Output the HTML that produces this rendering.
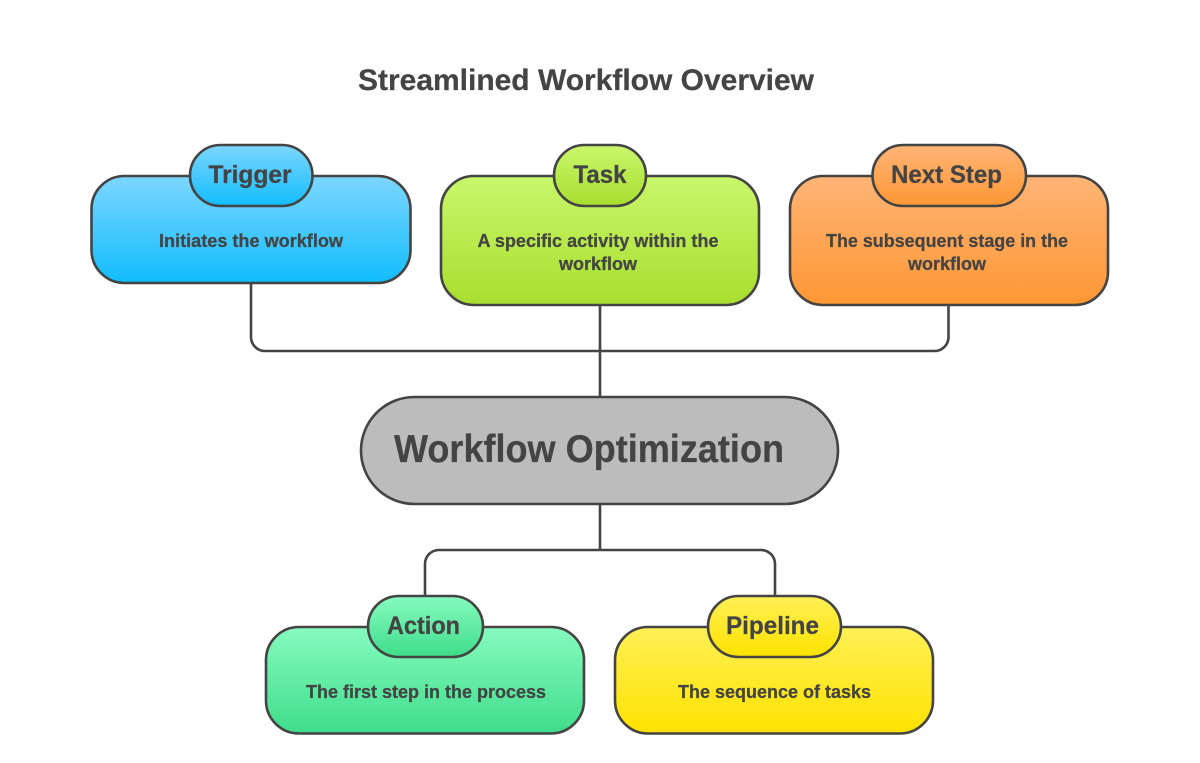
<!DOCTYPE html>
<html lang="en">
<head>
<meta charset="utf-8">
<title>Streamlined Workflow Overview</title>
<style>
html,body{margin:0;padding:0;background:#fff;width:1200px;height:763px;overflow:hidden}
svg{display:block}
text{font-family:"Liberation Sans",Arial,sans-serif;font-weight:700;fill:#444;stroke:#444;stroke-width:.25;}
.s{stroke:#444;stroke-width:2.6;}
.d{font-size:18px}
.p{font-size:25px}
</style>
</head>
<body>
<svg width="1200" height="763" viewBox="0 0 1200 763" xmlns="http://www.w3.org/2000/svg">
<defs>
<linearGradient id="b" x1="0" y1="0" x2="0" y2="1"><stop offset="0" stop-color="#7dd6fe"/><stop offset="1" stop-color="#12bdfd"/></linearGradient>
<linearGradient id="g" x1="0" y1="0" x2="0" y2="1"><stop offset="0" stop-color="#c9f76c"/><stop offset="1" stop-color="#a8de2e"/></linearGradient>
<linearGradient id="o" x1="0" y1="0" x2="0" y2="1"><stop offset="0" stop-color="#ffb577"/><stop offset="1" stop-color="#fd9733"/></linearGradient>
<linearGradient id="t" x1="0" y1="0" x2="0" y2="1"><stop offset="0" stop-color="#86fbbe"/><stop offset="1" stop-color="#3fdd8b"/></linearGradient>
<linearGradient id="y" x1="0" y1="0" x2="0" y2="1"><stop offset="0" stop-color="#fff056"/><stop offset="1" stop-color="#ffe200"/></linearGradient>
</defs>

<rect width="1200" height="763" fill="#fff"/>

<text x="586" y="90" font-size="30" text-anchor="middle" textLength="456" lengthAdjust="spacingAndGlyphs">Streamlined Workflow Overview</text>

<!-- connectors -->
<g fill="none" class="s">
<path d="M251 283V337a14 14 0 0 0 14 14H934.500a14 14 0 0 0 14-14V305"/>
<path d="M600 305V397"/>
<path d="M600 504V550"/>
<path d="M425 596V564a14 14 0 0 1 14-14H761a14 14 0 0 1 14 14V596"/>
</g>

<!-- Trigger -->
<rect x="91.500" y="176" width="319" height="107" rx="33" fill="url(#b)" class="s"/>
<rect x="190" y="145" width="122.500" height="61" rx="30.500" fill="url(#b)" class="s"/>
<text x="250" y="183" class="p" text-anchor="middle" textLength="83" lengthAdjust="spacingAndGlyphs">Trigger</text>
<text x="251" y="247" class="d" text-anchor="middle" textLength="184" lengthAdjust="spacingAndGlyphs">Initiates the workflow</text>

<!-- Task -->
<rect x="441" y="176" width="318" height="129" rx="33" fill="url(#g)" class="s"/>
<rect x="554" y="145" width="92" height="61" rx="30.500" fill="url(#g)" class="s"/>
<text x="600" y="183" class="p" text-anchor="middle" textLength="53" lengthAdjust="spacingAndGlyphs">Task</text>
<text x="598" y="247" class="d" text-anchor="middle" textLength="241" lengthAdjust="spacingAndGlyphs">A specific activity within the</text>
<text x="598" y="270" class="d" text-anchor="middle" textLength="78" lengthAdjust="spacingAndGlyphs">workflow</text>

<!-- Next Step -->
<rect x="790" y="176" width="318" height="129" rx="33" fill="url(#o)" class="s"/>
<rect x="872.500" y="145" width="153.500" height="61" rx="30.500" fill="url(#o)" class="s"/>
<text x="946.500" y="183" class="p" text-anchor="middle" textLength="111" lengthAdjust="spacingAndGlyphs">Next Step</text>
<text x="947" y="247" class="d" text-anchor="middle" textLength="242" lengthAdjust="spacingAndGlyphs">The subsequent stage in the</text>
<text x="947" y="270" class="d" text-anchor="middle" textLength="78" lengthAdjust="spacingAndGlyphs">workflow</text>

<!-- Center -->
<rect x="361" y="397" width="477" height="107" rx="53.500" fill="#bcbcbc" class="s"/>
<text x="589" y="462" font-size="39" text-anchor="middle" textLength="390" lengthAdjust="spacingAndGlyphs">Workflow Optimization</text>

<!-- Action -->
<rect x="266" y="627" width="318" height="106.500" rx="33" fill="url(#t)" class="s"/>
<rect x="368" y="596" width="115" height="61" rx="30.500" fill="url(#t)" class="s"/>
<text x="423.500" y="634" class="p" text-anchor="middle" textLength="73" lengthAdjust="spacingAndGlyphs">Action</text>
<text x="426" y="698" class="d" text-anchor="middle" textLength="240" lengthAdjust="spacingAndGlyphs">The first step in the process</text>

<!-- Pipeline -->
<rect x="615" y="627" width="318" height="106.500" rx="33" fill="url(#y)" class="s"/>
<rect x="708" y="596" width="133" height="61" rx="30.500" fill="url(#y)" class="s"/>
<text x="772.500" y="634" class="p" text-anchor="middle" textLength="93" lengthAdjust="spacingAndGlyphs">Pipeline</text>
<text x="774.500" y="698" class="d" text-anchor="middle" textLength="193" lengthAdjust="spacingAndGlyphs">The sequence of tasks</text>
</svg>
</body>
</html>
